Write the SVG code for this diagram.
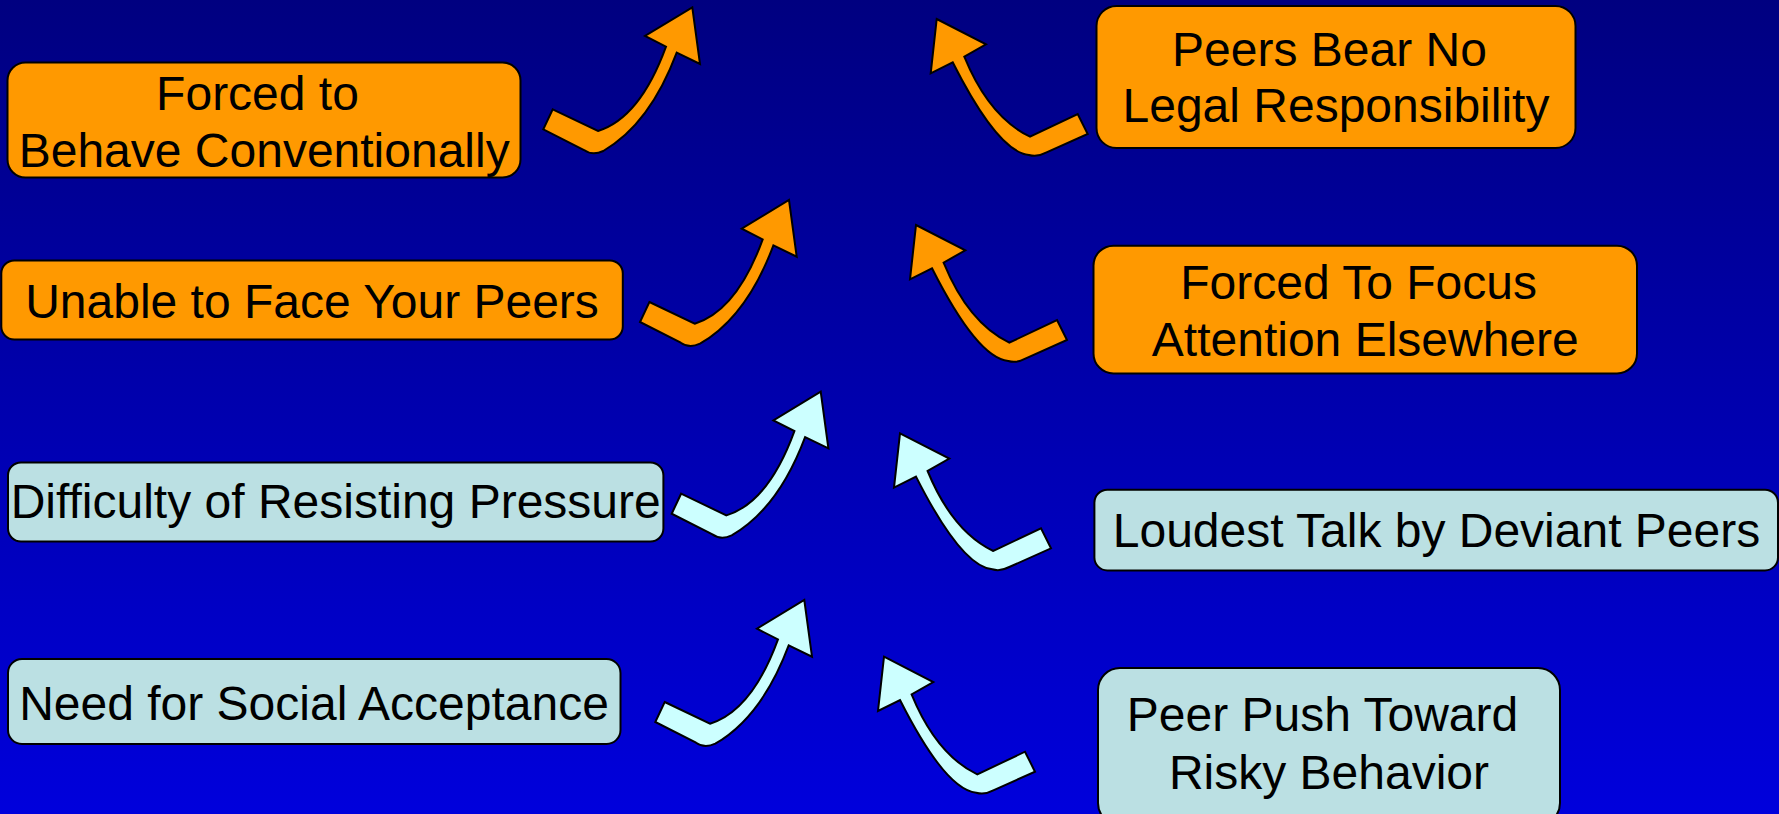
<svg xmlns="http://www.w3.org/2000/svg" xmlns:xlink="http://www.w3.org/1999/xlink" width="1779" height="814" viewBox="0 0 1779 814">
<style>
.bo{fill:#FF9900;stroke:#000;stroke-width:2}
.bc{fill:#BBE0E3;stroke:#000;stroke-width:2}
.ao{fill:#FF9900;stroke:#000;stroke-width:2;stroke-linejoin:miter}
.ac{fill:#CCFFFF;stroke:#000;stroke-width:2;stroke-linejoin:miter}
text{font-family:"Liberation Sans",Arial,Helvetica,sans-serif;font-size:48px;fill:#000;text-anchor:middle}
</style>
<defs>
<linearGradient id="bg" x1="0" y1="0" x2="0" y2="1">
<stop offset="0" stop-color="#000080"/>
<stop offset="1" stop-color="#0000DC"/>
</linearGradient>
<path id="arrR" d="M -139.6,102 L -94.3,123.7 Q -52.3,110.7 -26.3,39.4 L -47.3,28.7 L 0,0 L 7.7,56.7 L -15.6,45.4 Q -42.3,116.7 -89,143.7 Q -100,148.7 -108.3,142.7 L -149,122 Z"/>
<path id="arrL" d="M 0,0 L 49.3,25.3 L 27.6,37.7 Q 52.3,98 93.3,117.7 L 141,95 L 151,115 L 109.3,133.7 Q 100.3,138.5 92.3,136 Q 61.3,133 16,43.3 L -6,54.3 Z"/>
</defs>
<rect x="0" y="0" width="1779" height="814" fill="url(#bg)"/>

<g id="connectors">
<use xlink:href="#arrR" href="#arrR" class="ao" transform="translate(692.3,7.3)"/>
<use xlink:href="#arrR" href="#arrR" class="ao" transform="translate(789,200)"/>
<use xlink:href="#arrR" href="#arrR" class="ac" transform="translate(820.7,391.7)"/>
<use xlink:href="#arrR" href="#arrR" class="ac" transform="translate(804.3,600)"/>
<use xlink:href="#arrL" href="#arrL" class="ao" transform="translate(936.7,19)"/>
<use xlink:href="#arrL" href="#arrL" class="ao" transform="translate(916,225)"/>
<use xlink:href="#arrL" href="#arrL" class="ac" transform="translate(900,433.3)"/>
<use xlink:href="#arrL" href="#arrL" class="ac" transform="translate(884,656.7)"/>
</g>

<g id="behave">
<rect class="bo" x="7.5" y="62.5" width="513" height="115" rx="18"/>
<text x="257.5" y="110">Forced to</text>
<text x="264.2" y="167.3">Behave Conventionally</text>
</g>
<g id="legal">
<rect class="bo" x="1096.5" y="6" width="479" height="142" rx="20"/>
<text x="1329.5" y="65.7">Peers Bear No</text>
<text x="1336" y="122.3">Legal Responsibility</text>
</g>
<g id="face">
<rect class="bo" x="1.3" y="260.5" width="621.5" height="79" rx="13"/>
<text x="312" y="318.3">Unable to Face Your Peers</text>
</g>
<g id="focus">
<rect class="bo" x="1093.5" y="245.7" width="543.5" height="127.7" rx="20"/>
<text x="1358.6" y="298.8">Forced To Focus</text>
<text x="1365.3" y="355.6">Attention Elsewhere</text>
</g>
<g id="resist">
<rect class="bc" x="8" y="462.5" width="655.4" height="79" rx="13"/>
<text x="335.7" y="518.3">Difficulty of Resisting Pressure</text>
</g>
<g id="loudest">
<rect class="bc" x="1094.4" y="489.7" width="683.6" height="80.7" rx="13"/>
<text x="1436.5" y="546.5">Loudest Talk by Deviant Peers</text>
</g>
<g id="acceptance">
<rect class="bc" x="8" y="659" width="612.5" height="85" rx="14"/>
<text x="314" y="720">Need for Social Acceptance</text>
</g>
<g id="risky">
<rect class="bc" x="1098" y="668" width="462" height="157" rx="22"/>
<text x="1322.5" y="731.4">Peer Push Toward</text>
<text x="1329" y="789.3">Risky Behavior</text>
</g>
</svg>
